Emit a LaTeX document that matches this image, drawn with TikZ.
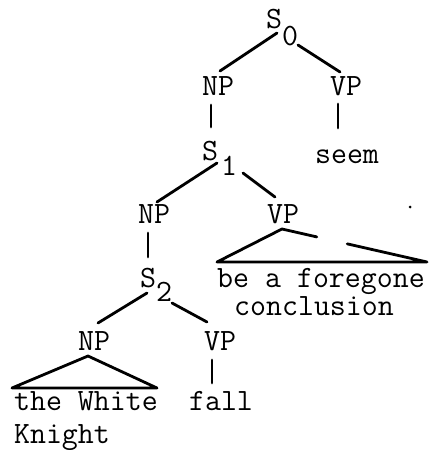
\documentclass[tikz,border=0pt]{standalone}
\usetikzlibrary{calc}
\begin{document}
\begin{tikzpicture}[x=0.5pt,y=-0.5pt,
  lab/.style={font=\fontsize{15.5}{18}\selectfont\ttfamily, inner sep=0pt, anchor=base},
  edge/.style={line width=1.4pt, line cap=round, line join=round}]
\useasboundingbox (0,0) rectangle (429,450);
% labels
\node[lab] (s0)  at (274,28) {S};
\node[lab] (s0i) at (290,45) {0};
\node[lab] (np1) at (218,95) {NP};
\node[lab] (vp1) at (346,95) {VP};
\node[lab] (s1)  at (210,160) {S};
\node[lab] (s1i) at (229,175) {1};
\node[lab] (seem) at (347,163) {seem};
\node[lab] (np2) at (154,223) {NP};
\node[lab] (vp2) at (283,223) {VP};
\node[lab] (fore) at (321,287) {be a foregone};
\node[lab] (concl) at (314,315) {conclusion};
\node[lab] (s2)  at (148,287) {S};
\node[lab] (s2i) at (164,301) {2};
\node[lab] (np3) at (94,350) {NP};
\node[lab] (vp3) at (220,350) {VP};
\node[lab] (white) at (86,410) {the White};
\node[lab] (knight) at (62,443) {Knight};
\node[lab] (fall) at (221,410) {fall};
% connectors
\draw[edge] ([shift={(3,5)}]s0.base) -- ([shift={(2,-24)}]np1.base);
\draw[edge] ([shift={(8,0)}]s0i.base) -- ([shift={(-6,-23)}]vp1.base);
\draw[edge] ([shift={(-7,10)}]np1.base) -- ([shift={(1,-33)}]s1.base);
\draw[edge] ([shift={(-8,9)}]vp1.base) -- ([shift={(-9,-35)}]seem.base);
\draw[edge] ([shift={(7,3)}]s1.base) -- ([shift={(3,-21)}]np2.base);
\draw[edge] ([shift={(14,-2)}]s1i.base) -- ([shift={(-8,-26)}]vp2.base);
\draw[edge] ([shift={(-6,10)}]np2.base) -- ([shift={(0,-30)}]s2.base);
\draw[edge] ([shift={(-1,6)}]s2.base) -- ([shift={(4,-27)}]np3.base);
\draw[edge] ([shift={(8,2)}]s2i.base) -- ([shift={(-13,-28)}]vp3.base);
\draw[edge] ([shift={(-8,10)}]vp3.base) -- ([shift={(-9,-27)}]fall.base);
% VP triangle (with gap in right side)
\coordinate (vp2a) at ([shift={(-1,6)}]vp2.base);
\coordinate (vp2l) at ([shift={(-104,-25)}]fore.base);
\coordinate (vp2r) at ([shift={(106,-25)}]fore.base);
\draw[edge] ($(vp2a)!0.45!(vp2r)$) -- (vp2r) -- (vp2l) -- (vp2a) -- ($(vp2a)!0.24!(vp2r)$);
% NP triangle
\coordinate (np3a) at ([shift={(-6,6)}]np3.base);
\coordinate (np3l) at ([shift={(-74,-22)}]white.base);
\coordinate (np3r) at ([shift={(71,-22)}]white.base);
\draw[edge] (np3a) -- (np3r) -- (np3l) -- cycle;
% speck
\fill (410,207) circle (1.5);
\end{tikzpicture}
\end{document}
